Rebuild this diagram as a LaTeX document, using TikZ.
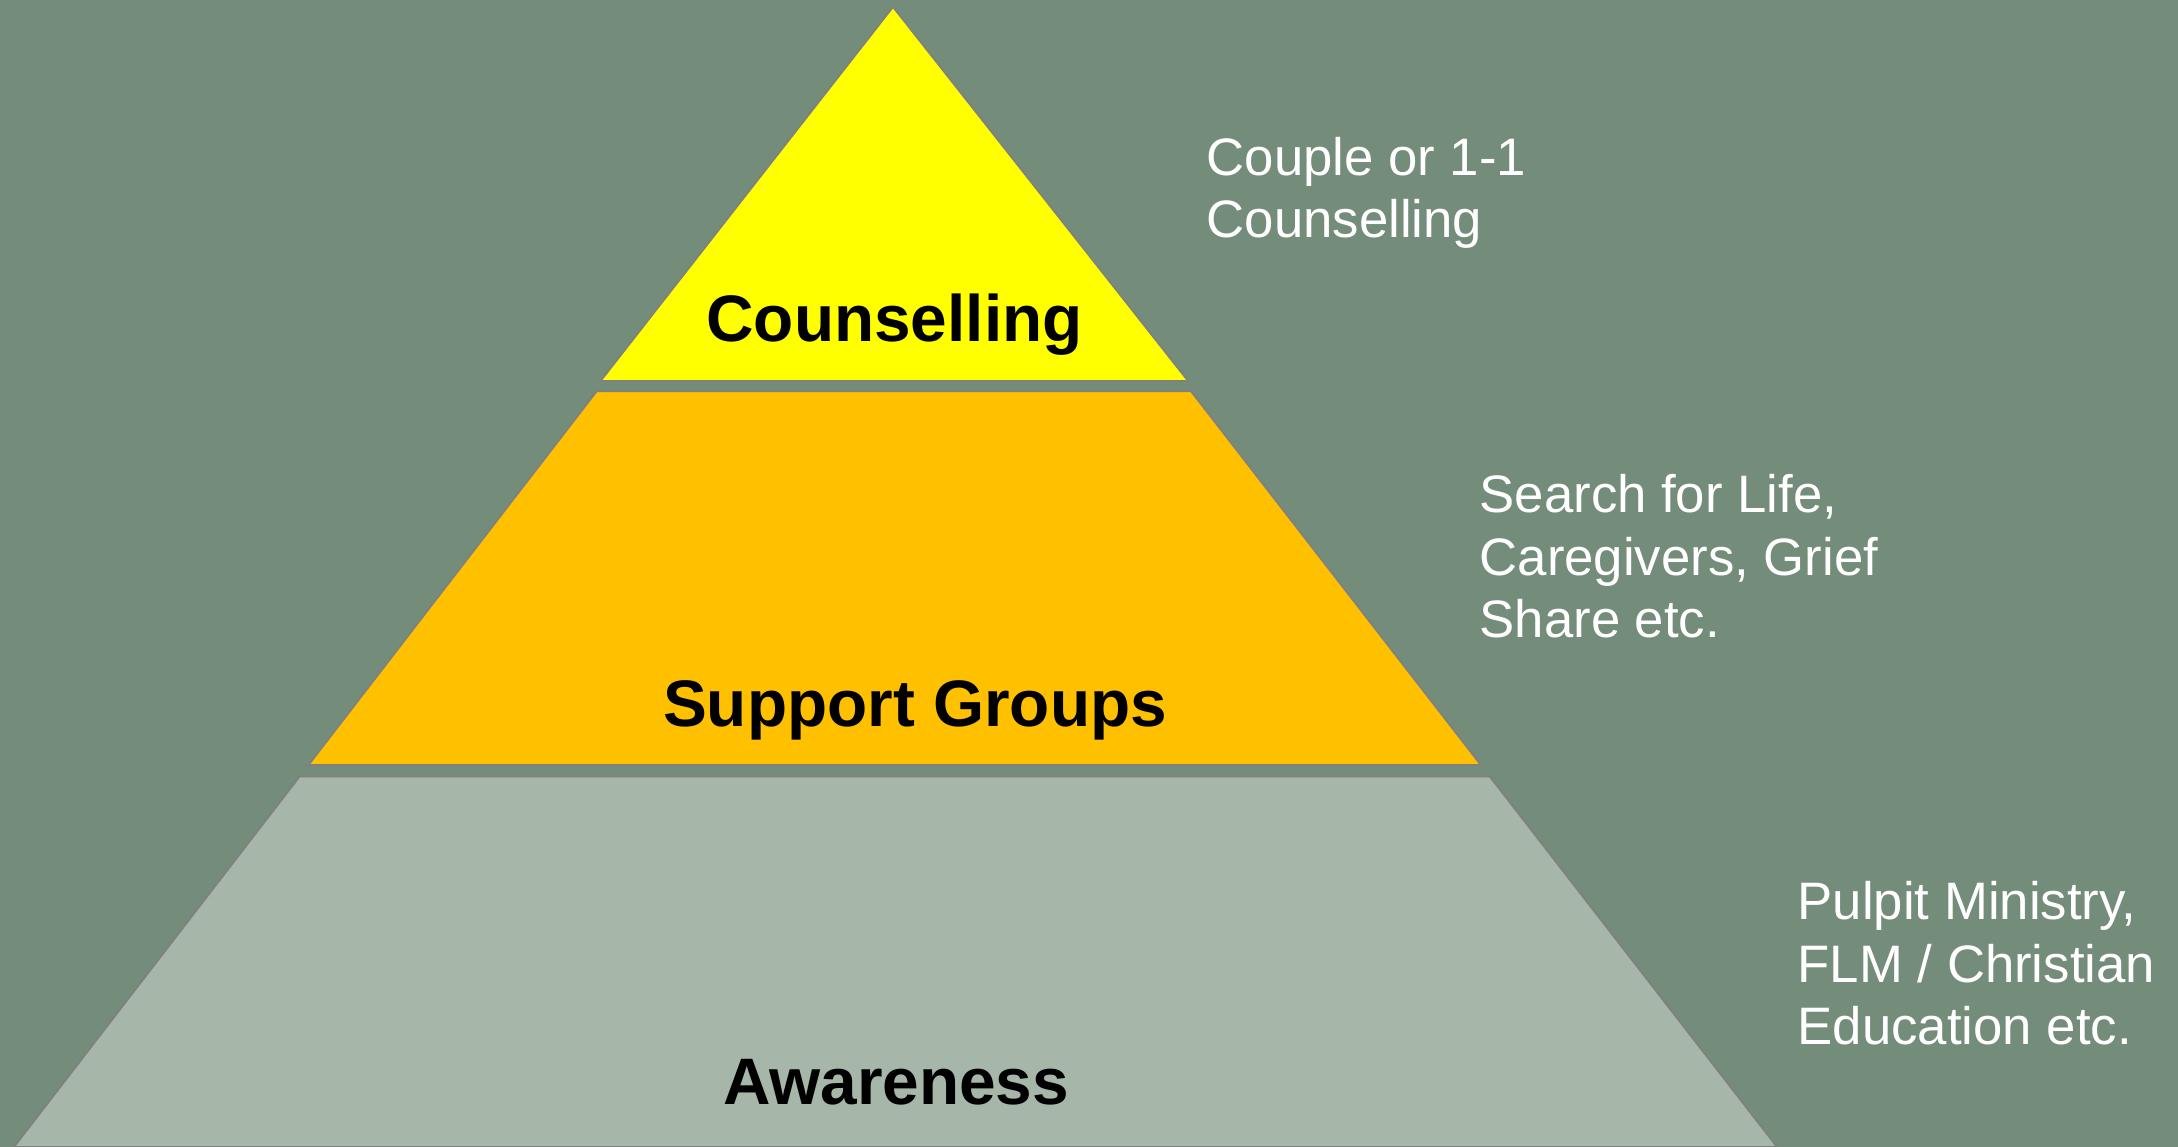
\documentclass[tikz,border=0pt]{standalone}
\usepackage{fontspec}
\setmainfont{Liberation Sans}
\usetikzlibrary{calc}
\definecolor{bgGreen}{RGB}{116,140,122}
\definecolor{tierYellow}{RGB}{255,255,0}
\definecolor{tierOrange}{RGB}{255,192,0}
\definecolor{tierGrey}{RGB}{166,182,169}
\definecolor{edgeGrey}{RGB}{128,128,128}
\begin{document}
\begin{tikzpicture}[
						tier/.style={draw=edgeGrey, line width=0.5pt, line join=miter},
						tierlabel/.style={anchor=base, inner sep=0pt, font=\fontsize{18.7}{22}\selectfont\bfseries, text=black},
						note/.style={anchor=base west, inner sep=0pt, align=left, font=\fontsize{15}{17.9}\selectfont, text=white}
					]
					\fill[bgGreen] (0,0) rectangle (21.78,11.47);
					\useasboundingbox (0,0) rectangle (21.78,11.47);
					\coordinate (apex) at (8.93,11.40);
					\coordinate (baseL) at (0.14,0);
					\coordinate (baseR) at (17.77,0);
					\draw[tier, fill=tierYellow] (apex) -- ([xshift=0.5mm]$(apex)!0.328!(baseR)$) -- ([xshift=-0.4mm]$(apex)!0.328!(baseL)$) -- cycle;
					\draw[tier, fill=tierOrange] ($(apex)!0.337!(baseL)$) -- ($(apex)!0.337!(baseR)$) -- ($(apex)!0.665!(baseR)$) -- ($(apex)!0.665!(baseL)$) -- cycle;
					\draw[tier, fill=tierGrey] ($(apex)!0.675!(baseL)$) -- ($(apex)!0.675!(baseR)$) -- (baseR) -- (baseL) -- cycle;
					\node[tierlabel] (counselling) at (8.945,8.05) {Counselling};
					\node[tierlabel] (support) at (9.15,4.20) {Support Groups};
					\node[tierlabel] (awareness) at (8.96,0.42) {Awareness};
					% base of a multi-line note sits on its last line
					\node[note] (counsellingnote) at (12.06,9.09) {Couple or 1-1\\Counselling};
					\node[note] (supportnote) at (14.79,5.09) {Search for Life,\\Caregivers, Grief\\Share etc.};
					\node[note] (awarenessnote) at (17.97,1.02) {Pulpit Ministry,\\FLM / Christian\\Education etc.};
					\end{tikzpicture}
\end{document}
